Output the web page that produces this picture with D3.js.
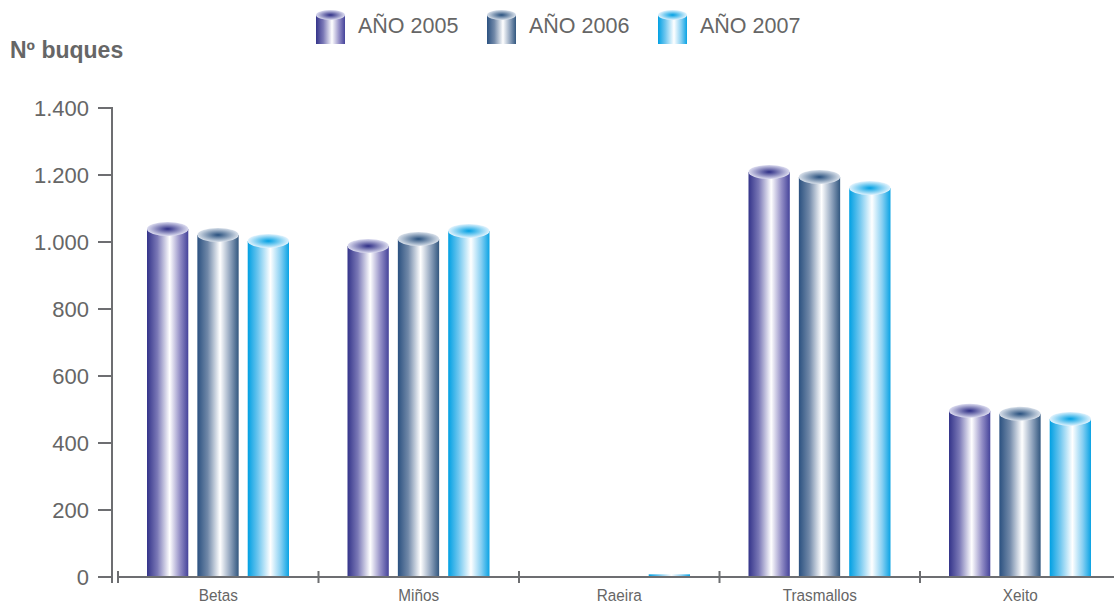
<!DOCTYPE html>
<html><head><meta charset="utf-8">
<script src="https://cdn.jsdelivr.net/npm/d3@7"></script>
<style>body{margin:0;background:#fff}svg{display:block}</style>
</head><body>
<script>
const categories = ["Betas", "Miños", "Raeira", "Trasmallos", "Xeito"];
const seriesNames = ["AÑO 2005", "AÑO 2006", "AÑO 2007"];
const values2005 = [1039, 988, 0, 1209, 496];
const values2006 = [1021, 1009, 0, 1194, 487];
const values2007 = [1003, 1033, 8, 1161, 472];
const yTicks = [0, 200, 400, 600, 800, 1000, 1200, 1400];
const yTitle = "Nº buques";

const seriesValues = [values2005, values2006, values2007];
const palettes = [
  {stops:["#34348a","#7a78b6","#ffffff","#938ec6","#45439a"], cTop:"#2e2e86", eTop:"#dcdcf0"},
  {stops:["#2b5180","#7088a8","#ffffff","#8ea2bc","#32577f"], cTop:"#28507e", eTop:"#d8e0ea"},
  {stops:["#00a0e3","#6ec6ef","#ffffff","#86cff2","#0aa3e4"], cTop:"#00a0e3", eTop:"#e2f3fd"}
];

const W = 1114, H = 605;
const svg = d3.select("body").append("svg").attr("width", W).attr("height", H);
const defs = svg.append("defs");
palettes.forEach((p, i) => {
  const lg = defs.append("linearGradient").attr("id", "body" + i).attr("x1", "0").attr("x2", "1").attr("y1", "0").attr("y2", "0");
  [0, 0.25, 0.55, 0.8, 1].forEach((o, k) => lg.append("stop").attr("offset", o).attr("stop-color", p.stops[k]));
  const rg = defs.append("radialGradient").attr("id", "top" + i).attr("cx", "0.5").attr("cy", "0.5").attr("r", "0.5");
  rg.append("stop").attr("offset", 0).attr("stop-color", p.cTop);
  rg.append("stop").attr("offset", 1).attr("stop-color", p.eTop);
});

const axisColor = "#6d6e71";
const textColor = "#666666";
const y = d3.scaleLinear().domain([0, 1400]).range([577, 108]);
const x0 = d3.scaleBand().domain(categories).range([118, 1120.5]).padding(0);
const x1 = d3.scaleBand().domain(seriesNames).range([29, 171]).paddingInner(0.18).paddingOuter(0);

// Y axis
const yAxis = svg.append("g");
yAxis.append("line").attr("x1", 112).attr("x2", 112).attr("y1", y(1400) - 1).attr("y2", 583)
  .attr("stroke", axisColor).attr("stroke-width", 2);
yTicks.forEach(t => {
  yAxis.append("line").attr("x1", 98).attr("x2", 112).attr("y1", y(t)).attr("y2", y(t))
    .attr("stroke", axisColor).attr("stroke-width", 2);
  yAxis.append("text").attr("x", 89).attr("y", y(t)).attr("dy", "0.36em").attr("text-anchor", "end")
    .attr("font-family", "Liberation Sans, Arial, sans-serif").attr("font-size", 22).attr("fill", textColor)
    .text(d3.format(",")(t).replace(/,/g, "."));
});

// Bars
const ry = 7;
categories.forEach((c, ci) => {
  seriesNames.forEach((s, si) => {
    const v = seriesValues[si][ci];
    if (v <= 0) return;
    const bx = x0(c) + x1(s), bw = x1.bandwidth();
    const top = y(v), bot = y(0);
    const g = svg.append("g");
    g.append("rect").attr("x", bx).attr("y", top).attr("width", bw).attr("height", bot - top)
      .attr("fill", `url(#body${si})`);
    if (bot - top > 2 * ry) {
      g.append("ellipse").attr("cx", bx + bw / 2).attr("cy", top).attr("rx", bw / 2).attr("ry", ry)
        .attr("fill", `url(#top${si})`);
    }
  });
});

// X axis
const xAxis = svg.append("g");
xAxis.append("line").attr("x1", 118).attr("x2", 1120).attr("y1", 577).attr("y2", 577)
  .attr("stroke", axisColor).attr("stroke-width", 2);
categories.forEach(c => {
  xAxis.append("line").attr("x1", x0(c)).attr("x2", x0(c)).attr("y1", 571).attr("y2", 583)
    .attr("stroke", axisColor).attr("stroke-width", 2);
  const cx = x0(c) + x0.bandwidth() / 2;
  xAxis.append("text").attr("transform", `translate(${cx},601) scale(0.9,1)`)
    .attr("text-anchor", "middle").attr("font-family", "Liberation Sans, Arial, sans-serif")
    .attr("font-size", 17).attr("fill", textColor).text(c);
});

// Y title
svg.append("text").attr("x", 10).attr("y", 58).attr("font-family", "Liberation Sans, Arial, sans-serif")
  .attr("font-weight", "bold").attr("font-size", 23).attr("fill", textColor).text(yTitle);

// Legend
const legX = [316, 487, 658];
seriesNames.forEach((s, i) => {
  const g = svg.append("g").attr("transform", `translate(${legX[i]},0)`);
  g.append("rect").attr("x", 0).attr("y", 15).attr("width", 29).attr("height", 29).attr("fill", `url(#body${i})`);
  g.append("ellipse").attr("cx", 14.5).attr("cy", 15).attr("rx", 14.5).attr("ry", 5).attr("fill", `url(#top${i})`);
  g.append("text").attr("x", 42).attr("y", 33).attr("font-family", "Liberation Sans, Arial, sans-serif")
    .attr("font-size", 21.5).attr("fill", textColor).text(s);
});
</script>
</body></html>
